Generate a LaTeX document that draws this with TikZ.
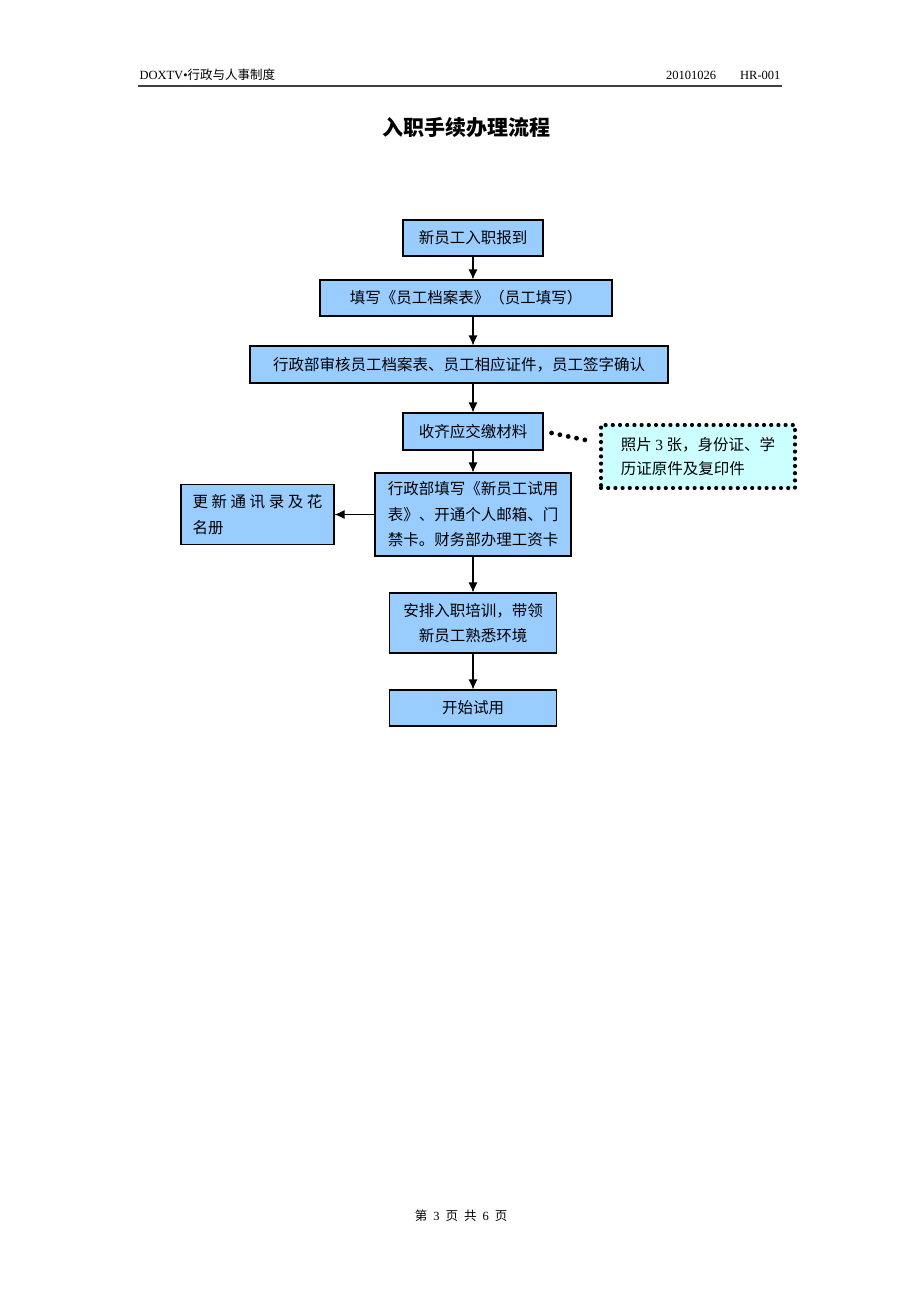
\documentclass[tikz,border=0pt]{standalone}
\usepackage{fontspec}
\setmainfont{Liberation Serif}
\newfontfamily\cjk{Noto Sans CJK SC}
\usetikzlibrary{shapes.geometric, arrows, arrows.meta}
\definecolor{boxblue}{HTML}{99CCFF}
\definecolor{notecyan}{HTML}{CCFFFF}
\tikzstyle{process} = [rectangle, minimum height=36pt, text centered, draw=black, line width=1.1pt, fill=boxblue, inner sep=0pt, font=\cjk\fontsize{15.5}{25.5}\selectfont]
\tikzstyle{note} = [rectangle, draw=black, fill=notecyan, line width=4.2pt, line cap=round, dash pattern=on 0pt off 7.2pt, inner sep=0pt, font=\cjk\fontsize{15.5}{24}\selectfont]
\tikzstyle{arrow} = [line width=1.1pt,->,>={Latex[length=10pt,width=9pt]}]
\tikzstyle{dotline} = [line width=4.8pt, line cap=round, dash pattern=on 0pt off 8.5pt]

\begin{document}
\begin{tikzpicture}[x=1pt, y=-1pt, node distance=60pt]
    \fill[white] (0,0) rectangle (920,1302);

    % header and footer
    \node (hdrleft) [anchor=west, font=\fontsize{12.5}{14}\selectfont] at (136,75) {DOXTV•{\cjk 行政与人事制度}};
    \node (hdrright) [anchor=east, font=\fontsize{12.5}{14}\selectfont] at (784,75) {20101026\hspace{24pt}HR-001};
    \draw[line width=1.6pt, black!75] (138,86) -- (782,86);
    \node (title) [font=\cjk\bfseries\fontsize{21}{24}\selectfont] at (466,128) {入职手续办理流程};
    \node (pageno) [font=\fontsize{12.5}{14}\selectfont] at (461,1216) {{\cjk 第}\hspace{6pt}3\hspace{6pt}{\cjk 页}\hspace{6pt}{\cjk 共}\hspace{6pt}6\hspace{6pt}{\cjk 页}};

    \node (report) [process, minimum width=140pt] at (473,238) {新员工入职报到};
    \node (fillform) [process, minimum width=292pt, below of=report, xshift=-7pt] {填写《员工档案表》（员工填写）};
    \node (review) [process, minimum width=418pt, minimum height=37pt, below of=fillform, node distance=66.5pt, xshift=-7pt] {行政部审核员工档案表、员工相应证件，员工签字确认};
    \node (collect) [process, minimum width=140pt, minimum height=37pt, below of=review, node distance=67pt, xshift=14pt] {收齐应交缴材料};
    \node (trialform) [process, minimum width=196pt, minimum height=83pt, below of=collect, node distance=83pt, align=left] {行政部填写《新员工试用\\表》、开通个人邮箱、门\\禁卡。财务部办理工资卡};
    \node (roster) [process, minimum width=153pt, minimum height=60pt, left of=trialform, node distance=215.5pt, align=left] {\makebox[130pt][s]{更\hfil 新\hfil 通\hfil 讯\hfil 录\hfil 及\hfil 花}\\名册\hfill};
    \node (docs) [note, minimum width=194pt, minimum height=63pt, right of=collect, node distance=225pt, yshift=-25pt, align=left] {照片 {\rmfamily 3} 张，身份证、学\\历证原件及复印件};
    \node (training) [process, minimum width=167pt, minimum height=60pt, below of=trialform, node distance=108.5pt, align=center] {安排入职培训，带领\\新员工熟悉环境};
    \node (start) [process, minimum width=167pt, below of=training, node distance=85pt] {开始试用};

    \draw [arrow] (report) -- (report |- fillform.north);
    \draw [arrow] (fillform.south -| report) -- (report |- review.north);
    \draw [arrow] (review.south -| collect) -- (collect);
    \draw [arrow] (collect) -- (trialform);
    \draw [arrow] (trialform) -- (roster);
    \draw [arrow] (trialform) -- (training);
    \draw [arrow] (training) -- (start);

    \draw [dotline] ([xshift=8pt, yshift=-1.5pt]collect.east) -- ([xshift=-11pt, yshift=16pt]docs.west);

\end{tikzpicture}
\end{document}
